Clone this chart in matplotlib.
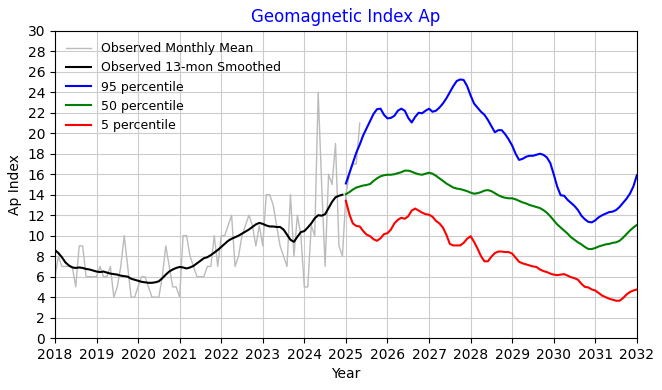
import matplotlib
matplotlib.use('Agg')
import matplotlib.pyplot as plt
import numpy as np

# monthly values, first month = Jan 2018
observed_monthly = [
    6, 8, 7, 7, 7, 7, 5, 9, 9, 6, 6, 6,          # 2018
    6, 7, 6, 6, 7, 4, 5, 7, 10, 7, 4, 4,         # 2019
    5, 6, 6, 5, 4, 4, 4, 6, 9, 7, 5, 5,          # 2020
    4, 10, 10, 8, 7, 6, 6, 6, 7, 7, 10, 7,       # 2021
    10, 10, 11, 12, 7, 8, 10, 11, 12, 11, 9, 11, # 2022
    9, 14, 14, 13, 11, 9, 8, 7, 14, 8, 12, 10,   # 2023
    5, 5, 11, 10, 24, 15, 7, 16, 15, 19, 9, 8,   # 2024
    14, 16, 17, 17, 21,                          # 2025
]

observed_smoothed = [
    8.6, 8.3, 7.9, 7.4, 7.1, 6.9, 6.85, 6.9, 6.85, 6.75, 6.7, 6.6,
    6.5, 6.45, 6.5, 6.4, 6.3, 6.25, 6.2, 6.1, 6.05, 6.0, 5.8, 5.7,
    5.6, 5.5, 5.45, 5.4, 5.4, 5.45, 5.55, 5.85, 6.2, 6.5, 6.7, 6.85,
    6.95, 6.9, 6.8, 6.9, 7.05, 7.3, 7.55, 7.8, 7.9, 8.1, 8.35, 8.6,
    8.9, 9.2, 9.5, 9.7, 9.85, 10.0, 10.2, 10.4, 10.6, 10.85, 11.1, 11.25,
    11.15, 11.0, 10.9, 10.9, 10.85, 10.85, 10.6, 10.1, 9.6, 9.4, 9.9, 10.35,
    10.45, 10.8, 11.2, 11.7, 12.0, 11.95, 12.1, 12.7, 13.3, 13.75, 13.9, 14.0,
]

# predictions, first month = Jan 2025
p95 = [
    15.1, 16.1, 17.1, 18.1, 18.9, 19.8, 20.5, 21.2, 21.9, 22.35, 22.4, 21.8,
    21.45, 21.5, 21.7, 22.2, 22.4, 22.2, 21.5, 21.05, 21.6, 22.0, 21.95, 22.2,
    22.4, 22.1, 22.2, 22.5, 22.9, 23.4, 24.0, 24.6, 25.1, 25.25, 25.2, 24.6,
    23.7, 22.9, 22.5, 22.1, 21.8, 21.3, 20.7, 20.1, 20.3, 20.3, 19.9, 19.4,
    18.8, 18.0, 17.4, 17.5, 17.7, 17.8, 17.8, 17.9, 18.0, 17.9, 17.65, 17.1,
    16.0, 14.8, 13.95, 13.9, 13.5, 13.2, 12.9, 12.5, 11.95, 11.6, 11.35, 11.3,
    11.5, 11.8, 12.0, 12.15, 12.3, 12.35, 12.5, 12.8, 13.2, 13.6, 14.1, 14.8,
    15.9,
]
p50 = [
    14.05, 14.25, 14.5, 14.7, 14.8, 14.9, 14.95, 15.05, 15.35, 15.6, 15.8, 15.9,
    15.95, 15.95, 16.0, 16.1, 16.2, 16.35, 16.35, 16.25, 16.1, 16.0, 15.95, 16.05,
    16.15, 16.05, 15.85, 15.6, 15.35, 15.1, 14.9, 14.7, 14.6, 14.55, 14.45, 14.35,
    14.2, 14.1, 14.15, 14.25, 14.4, 14.45, 14.35, 14.15, 13.95, 13.8, 13.7, 13.65,
    13.65, 13.55, 13.4, 13.25, 13.15, 13.0, 12.9, 12.8, 12.7, 12.5, 12.25, 11.9,
    11.5, 11.1, 10.8, 10.5, 10.2, 9.85, 9.6, 9.35, 9.15, 8.9, 8.7, 8.7,
    8.8, 8.95, 9.05, 9.15, 9.2, 9.3, 9.35, 9.5, 9.8, 10.15, 10.5, 10.8,
    11.05,
]
p5 = [
    13.4, 12.1, 11.2, 10.95, 10.9, 10.45, 10.1, 9.95, 9.65, 9.5, 9.75, 10.15,
    10.25, 10.6, 11.2, 11.55, 11.75, 11.65, 11.9, 12.45, 12.65, 12.45, 12.25, 12.1,
    12.05, 11.85, 11.45, 11.2, 10.8, 10.1, 9.2, 9.05, 9.05, 9.05, 9.3, 9.7,
    9.95, 9.4, 8.75, 8.0, 7.5, 7.5, 7.95, 8.3, 8.45, 8.45, 8.4, 8.4,
    8.25, 7.85, 7.45, 7.3, 7.2, 7.1, 7.0, 6.95, 6.7, 6.55, 6.45, 6.3,
    6.2, 6.15, 6.2, 6.25, 6.1, 5.95, 5.85, 5.7, 5.3, 5.0, 4.95, 4.75,
    4.65, 4.4, 4.15, 4.0, 3.85, 3.75, 3.65, 3.65, 3.9, 4.25, 4.5, 4.65,
    4.75,
]

t_obs = 2018 + np.arange(len(observed_monthly)) / 12
t_smooth = 2018 + np.arange(len(observed_smoothed)) / 12
t_pred = 2025 + np.arange(len(p95)) / 12

fig = plt.figure(figsize=(6.62, 3.9), dpi=100)
ax = fig.add_axes([0.083, 0.133, 0.879, 0.788])

ax.plot(t_obs, observed_monthly, color='#bbbbbb', lw=1, label='Observed Monthly Mean')
ax.plot(t_smooth, observed_smoothed, color='black', lw=1.5, label='Observed 13-mon Smoothed')
ax.plot(t_pred, p95, color='blue', lw=1.5, label='95 percentile')
ax.plot(t_pred, p50, color='green', lw=1.5, label='50 percentile')
ax.plot(t_pred, p5, color='red', lw=1.5, label='5 percentile')

ax.set_xlim(2018, 2032)
ax.set_ylim(0, 30)
ax.set_xticks(range(2018, 2033))
ax.set_yticks(range(0, 31, 2))
ax.grid(True, color='#cccccc', lw=0.8)
ax.set_axisbelow(True)

ax.set_title('Geomagnetic Index Ap', color='blue', fontsize=12)
ax.set_xlabel('Year')
ax.set_ylabel('Ap Index')
ax.legend(loc='upper left', frameon=False, fontsize=9)

fig.savefig('out.png', dpi=100)
